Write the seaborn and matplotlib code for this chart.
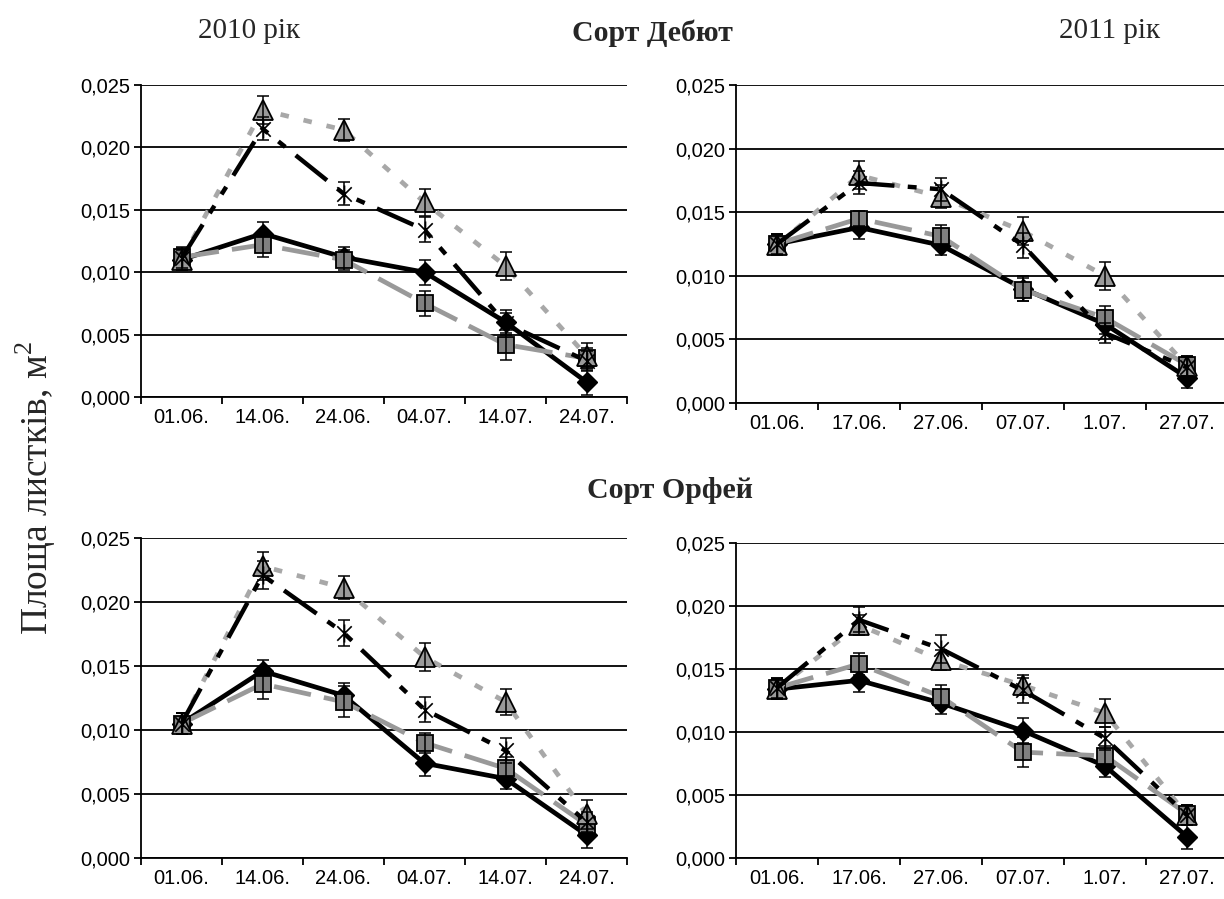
import numpy as np
import pandas as pd
import matplotlib
matplotlib.use("Agg")
import matplotlib.pyplot as plt
from matplotlib.path import Path
from matplotlib.ticker import FuncFormatter, MultipleLocator
import seaborn as sns

# ---- data -------------------------------------------------------------
dates_2010 = ["01.06.", "14.06.", "24.06.", "04.07.", "14.07.", "24.07."]
dates_2011 = ["01.06.", "17.06.", "27.06.", "07.07.", "1.07.", "27.07."]

# Сорт Дебют, 2010
deb10_rhomb = [0.0110, 0.0131, 0.0112, 0.0100, 0.0060, 0.0012]
deb10_square = [0.0112, 0.0122, 0.0110, 0.0075, 0.0042, 0.0031]
deb10_tri = [0.0110, 0.0230, 0.0214, 0.0156, 0.0105, 0.0033]
deb10_star = [0.0111, 0.0215, 0.0163, 0.0134, 0.0059, 0.0029]
deb10_rhomb_err = [0.0008, 0.0009, 0.0008, 0.0010, 0.0010, 0.0010]
deb10_square_err = [0.0008, 0.0010, 0.0008, 0.0010, 0.0012, 0.0008]
deb10_tri_err = [0.0008, 0.0011, 0.0009, 0.0011, 0.0011, 0.0010]
deb10_star_err = [0.0008, 0.0009, 0.0009, 0.0010, 0.0008, 0.0008]

# Сорт Дебют, 2011
deb11_rhomb = [0.0125, 0.0138, 0.0124, 0.0090, 0.0062, 0.0020]
deb11_square = [0.0125, 0.0145, 0.0131, 0.0089, 0.0067, 0.0030]
deb11_tri = [0.0124, 0.0179, 0.0162, 0.0135, 0.0100, 0.0029]
deb11_star = [0.0125, 0.0173, 0.0168, 0.0124, 0.0055, 0.0028]
deb11_rhomb_err = [0.0008, 0.0009, 0.0008, 0.0010, 0.0008, 0.0008]
deb11_square_err = [0.0008, 0.0006, 0.0009, 0.0009, 0.0009, 0.0007]
deb11_tri_err = [0.0008, 0.0011, 0.0009, 0.0011, 0.0011, 0.0008]
deb11_star_err = [0.0008, 0.0009, 0.0009, 0.0010, 0.0008, 0.0008]

# Сорт Орфей, 2010
orf10_rhomb = [0.0105, 0.0146, 0.0127, 0.0074, 0.0062, 0.0018]
orf10_square = [0.0105, 0.0136, 0.0122, 0.0090, 0.0070, 0.0026]
orf10_tri = [0.0105, 0.0228, 0.0211, 0.0157, 0.0122, 0.0034]
orf10_star = [0.0105, 0.0221, 0.0176, 0.0116, 0.0084, 0.0028]
orf10_rhomb_err = [0.0008, 0.0009, 0.0010, 0.0010, 0.0008, 0.0010]
orf10_square_err = [0.0008, 0.0012, 0.0012, 0.0008, 0.0009, 0.0008]
orf10_tri_err = [0.0008, 0.0011, 0.0009, 0.0011, 0.0010, 0.0011]
orf10_star_err = [0.0008, 0.0011, 0.0010, 0.0010, 0.0010, 0.0008]

# Сорт Орфей, 2011
orf11_rhomb = [0.0134, 0.0141, 0.0123, 0.0101, 0.0073, 0.0017]
orf11_square = [0.0135, 0.0154, 0.0128, 0.0084, 0.0081, 0.0035]
orf11_tri = [0.0134, 0.0185, 0.0157, 0.0137, 0.0115, 0.0034]
orf11_star = [0.0135, 0.0189, 0.0166, 0.0133, 0.0095, 0.0034]
orf11_rhomb_err = [0.0008, 0.0009, 0.0009, 0.0010, 0.0009, 0.0010]
orf11_square_err = [0.0008, 0.0009, 0.0009, 0.0012, 0.0008, 0.0007]
orf11_tri_err = [0.0008, 0.0008, 0.0008, 0.0008, 0.0011, 0.0008]
orf11_star_err = [0.0008, 0.0010, 0.0011, 0.0010, 0.0009, 0.0008]

# ---- style ------------------------------------------------------------
sns.set_theme(style="white")
plt.rcParams["font.family"] = ["Liberation Sans", "DejaVu Sans"]
plt.rcParams["lines.scale_dashes"] = True
plt.rcParams["mathtext.fontset"] = "custom"
plt.rcParams["mathtext.rm"] = "Liberation Serif"

SERIF = ["Liberation Serif", "DejaVu Serif"]

# asterisk-like marker: an X crossed by a vertical stroke
star_marker = Path(
    [(-1, -1), (1, 1), (-1, 1), (1, -1), (0, -1.25), (0, 1.25)],
    [Path.MOVETO, Path.LINETO, Path.MOVETO, Path.LINETO, Path.MOVETO, Path.LINETO],
)

series_style = {
    "rhomb": dict(color="black", linestyle="-", marker="D", markersize=10,
                  markerfacecolor="black", markeredgecolor="black",
                  markeredgewidth=1.0, linewidth=3.4),
    "square": dict(color="#999999", linestyle=(0, (8, 2.8)), marker="s",
                   markersize=12, markerfacecolor="#808080",
                   markeredgecolor="black", markeredgewidth=1.3, linewidth=3.4),
    "tri": dict(color="#a8a8a8", linestyle=(0, (1.8, 3.2)), marker="^",
                markersize=14, markerfacecolor="#9a9a9a",
                markeredgecolor="black", markeredgewidth=1.3, linewidth=3.4),
    "star": dict(color="black", linestyle=(0, (9, 3, 2, 3, 2, 3)),
                 marker=star_marker, markersize=13, markerfacecolor="none",
                 markeredgecolor="black", markeredgewidth=1.2, linewidth=3.2),
}

W, H = 1224, 899
fig = plt.figure(figsize=(W / 100, H / 100), dpi=100)


def px_axes(x0, x1, ytop, ybot):
    return fig.add_axes([x0 / W, 1 - ybot / H, (x1 - x0) / W, (ybot - ytop) / H])


panels = [
    (px_axes(141, 627, 85, 397), dates_2010,
     {"rhomb": (deb10_rhomb, deb10_rhomb_err), "square": (deb10_square, deb10_square_err),
      "tri": (deb10_tri, deb10_tri_err), "star": (deb10_star, deb10_star_err)}),
    (px_axes(736, 1228, 85, 403), dates_2011,
     {"rhomb": (deb11_rhomb, deb11_rhomb_err), "square": (deb11_square, deb11_square_err),
      "tri": (deb11_tri, deb11_tri_err), "star": (deb11_star, deb11_star_err)}),
    (px_axes(141, 627, 538, 858), dates_2010,
     {"rhomb": (orf10_rhomb, orf10_rhomb_err), "square": (orf10_square, orf10_square_err),
      "tri": (orf10_tri, orf10_tri_err), "star": (orf10_star, orf10_star_err)}),
    (px_axes(736, 1228, 543, 858), dates_2011,
     {"rhomb": (orf11_rhomb, orf11_rhomb_err), "square": (orf11_square, orf11_square_err),
      "tri": (orf11_tri, orf11_tri_err), "star": (orf11_star, orf11_star_err)}),
]

comma_fmt = FuncFormatter(lambda v, _: f"{v:.3f}".replace(".", ","))

for ax, dates, data in panels:
    for k, (name, (vals, errs)) in enumerate(data.items()):
        df = pd.DataFrame({"date": dates, "area": vals, "err": errs})
        sns.lineplot(data=df, x="date", y="area", ax=ax, sort=False,
                     errorbar=None, zorder=3 + k, **series_style[name])
        ax.errorbar(df["date"], df["area"], yerr=df["err"], fmt="none",
                    ecolor="black", elinewidth=1.1, capsize=4.5, capthick=1.1,
                    zorder=3.5 + k)

    ax.set_xlim(-0.5, len(dates) - 0.5)
    ax.set_ylim(0, 0.025)
    ax.yaxis.set_major_locator(MultipleLocator(0.005))
    ax.yaxis.set_major_formatter(comma_fmt)
    ax.set_xlabel("")
    ax.set_ylabel("")

    ax.grid(axis="y", color="black", linewidth=1.3)
    ax.grid(axis="x", visible=False)
    ax.set_axisbelow(True)
    for side in ("top", "right"):
        ax.spines[side].set_visible(False)
    for side in ("left", "bottom"):
        ax.spines[side].set_color("black")
        ax.spines[side].set_linewidth(1.3)

    ax.set_xticks(np.arange(len(dates) + 1) - 0.5, minor=True)
    ax.tick_params(axis="x", which="major", length=0, pad=8, labelsize=14.5,
                   colors="black")
    ax.tick_params(axis="x", which="minor", length=5, width=1.3,
                   direction="out", color="black", bottom=True)
    ax.tick_params(axis="y", which="major", length=5, width=1.3,
                   direction="out", pad=3, labelsize=14.5, colors="black",
                   left=True)
    ax.patch.set_alpha(0)

# titles and shared axis label
fig.text(249 / W, 1 - 38 / H, "2010 рік", ha="center", va="baseline",
         fontsize=21, family=SERIF)
fig.text(1110 / W, 1 - 38 / H, "2011 рік", ha="center", va="baseline",
         fontsize=21, family=SERIF)
fig.text(652 / W, 1 - 41 / H, "Сорт Дебют", ha="center", va="baseline",
         fontsize=21.5, fontweight="bold", family=SERIF)
fig.text(670 / W, 1 - 498 / H, "Сорт Орфей", ha="center", va="baseline",
         fontsize=21.5, fontweight="bold", family=SERIF)
fig.text(36 / W, 1 - 488 / H, "Площа листків, м$^{2}$", rotation=90,
         ha="center", va="center", fontsize=27, family=SERIF)

fig.savefig("out.png", dpi=100)
